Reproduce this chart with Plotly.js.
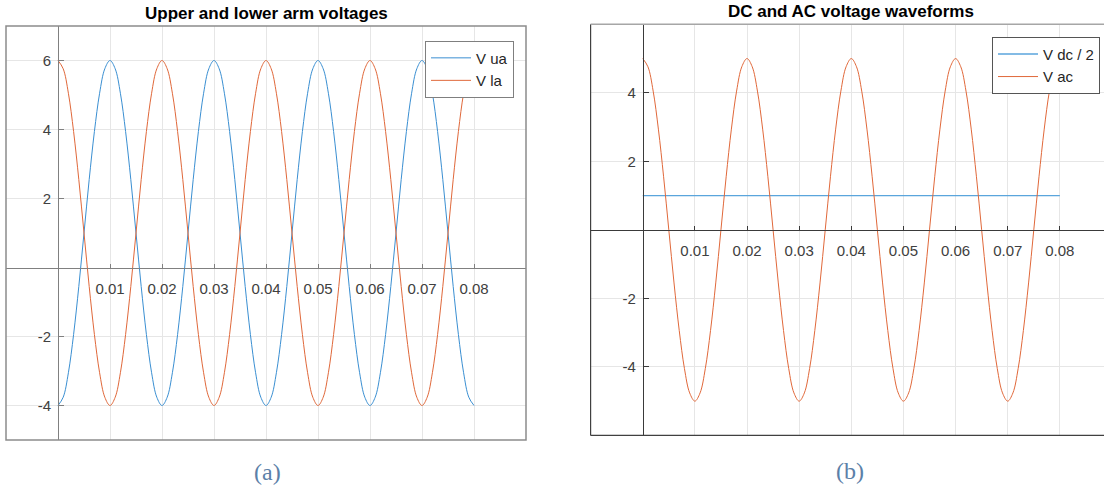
<!DOCTYPE html>
<html>
<head>
<meta charset="utf-8">
<script src="https://cdn.plot.ly/plotly-3.0.1.min.js"></script>
<style>
html,body{margin:0;padding:0;overflow:hidden;background:#fff;}
#chart{width:1120px;height:488px;}
</style>
</head>
<body>
<div id="chart"></div>
<script>
// ---- data ----
const time = [0,0.001,0.002,0.003,0.004,0.005,0.006,0.007,0.008,0.009,
0.010,0.011,0.012,0.013,0.014,0.015,0.016,0.017,0.018,0.019,
0.020,0.021,0.022,0.023,0.024,0.025,0.026,0.027,0.028,0.029,
0.030,0.031,0.032,0.033,0.034,0.035,0.036,0.037,0.038,0.039,
0.040,0.041,0.042,0.043,0.044,0.045,0.046,0.047,0.048,0.049,
0.050,0.051,0.052,0.053,0.054,0.055,0.056,0.057,0.058,0.059,
0.060,0.061,0.062,0.063,0.064,0.065,0.066,0.067,0.068,0.069,
0.070,0.071,0.072,0.073,0.074,0.075,0.076,0.077,0.078,0.079,0.080];

const vUa = [-4,-3.76,-3.05,-1.94,-0.55,1,2.55,3.94,5.05,5.76,6,5.76,5.05,3.94,2.55,1,-0.55,-1.94,-3.05,-3.76,
-4,-3.76,-3.05,-1.94,-0.55,1,2.55,3.94,5.05,5.76,6,5.76,5.05,3.94,2.55,1,-0.55,-1.94,-3.05,-3.76,
-4,-3.76,-3.05,-1.94,-0.55,1,2.55,3.94,5.05,5.76,6,5.76,5.05,3.94,2.55,1,-0.55,-1.94,-3.05,-3.76,
-4,-3.76,-3.05,-1.94,-0.55,1,2.55,3.94,5.05,5.76,6,5.76,5.05,3.94,2.55,1,-0.55,-1.94,-3.05,-3.76,-4];

const vLa = [6,5.76,5.05,3.94,2.55,1,-0.55,-1.94,-3.05,-3.76,-4,-3.76,-3.05,-1.94,-0.55,1,2.55,3.94,5.05,5.76,
6,5.76,5.05,3.94,2.55,1,-0.55,-1.94,-3.05,-3.76,-4,-3.76,-3.05,-1.94,-0.55,1,2.55,3.94,5.05,5.76,
6,5.76,5.05,3.94,2.55,1,-0.55,-1.94,-3.05,-3.76,-4,-3.76,-3.05,-1.94,-0.55,1,2.55,3.94,5.05,5.76,
6,5.76,5.05,3.94,2.55,1,-0.55,-1.94,-3.05,-3.76,-4,-3.76,-3.05,-1.94,-0.55,1,2.55,3.94,5.05,5.76,6];

const vDcHalf = [1,1,1,1,1,1,1,1,1,1,1,1,1,1,1,1,1,1,1,1,
1,1,1,1,1,1,1,1,1,1,1,1,1,1,1,1,1,1,1,1,
1,1,1,1,1,1,1,1,1,1,1,1,1,1,1,1,1,1,1,1,
1,1,1,1,1,1,1,1,1,1,1,1,1,1,1,1,1,1,1,1,1];

const vAc = [5,4.76,4.05,2.94,1.55,0,-1.55,-2.94,-4.05,-4.76,-5,-4.76,-4.05,-2.94,-1.55,0,1.55,2.94,4.05,4.76,
5,4.76,4.05,2.94,1.55,0,-1.55,-2.94,-4.05,-4.76,-5,-4.76,-4.05,-2.94,-1.55,0,1.55,2.94,4.05,4.76,
5,4.76,4.05,2.94,1.55,0,-1.55,-2.94,-4.05,-4.76,-5,-4.76,-4.05,-2.94,-1.55,0,1.55,2.94,4.05,4.76,
5,4.76,4.05,2.94,1.55,0,-1.55,-2.94,-4.05,-4.76,-5,-4.76,-4.05,-2.94,-1.55,0,1.55,2.94,4.05,4.76,5];

const xTickVals = [0.01,0.02,0.03,0.04,0.05,0.06,0.07,0.08];
const xTickText = ["0.01","0.02","0.03","0.04","0.05","0.06","0.07","0.08"];
const yTickValsA = [-4,-2,2,4,6];
const yTickTextA = ["-4","-2","2","4","6"];
const yTickValsB = [-4,-2,2,4];
const yTickTextB = ["-4","-2","2","4"];
const titleA = "Upper and lower arm voltages";
const titleB = "DC and AC voltage waveforms";

// ---- layout geometry ----
const W = 1120, H = 488;
const blue = "#3a8fd2", orange = "#e0683a";
const dxA = [6/W, 526/W], dyA = [(H-440)/H, (H-26)/H];
const dxB = [590.6/W, 1112/W], dyB = [(H-435.4)/H, (H-24.3)/H];
const rxA = [-0.01, 0.09], ryA = [-5, 7];
const rxB = [-0.01, 0.09], ryB = [-6, 6];
function posOf(dom, rng){ return dom[0] + (0 - rng[0])/(rng[1]-rng[0])*(dom[1]-dom[0]); }

const font = "'Liberation Sans', Arial, sans-serif";
const serif = "'Liberation Serif', 'DejaVu Serif', serif";
const tickFont = {family: font, size: 15, color: "#404040"};

const lineA = {shape: "spline", smoothing: 1, width: 1};
const traces = [
  {x: time, y: vUa, name: "V ua", type: "scatter", mode: "lines", line: Object.assign({color: blue}, lineA), xaxis: "x", yaxis: "y", legend: "legend"},
  {x: time, y: vLa, name: "V la", type: "scatter", mode: "lines", line: Object.assign({color: orange}, lineA), xaxis: "x", yaxis: "y", legend: "legend"},
  {x: time, y: vDcHalf, name: "V dc / 2", type: "scatter", mode: "lines", line: {color: "#5aa5dc", width: 1.4}, xaxis: "x2", yaxis: "y2", legend: "legend2"},
  {x: time, y: vAc, name: "V ac", type: "scatter", mode: "lines", line: Object.assign({color: orange}, lineA), xaxis: "x2", yaxis: "y2", legend: "legend2"}
];

function xAx(dom, rng, pos, col){
  return {domain: dom, range: rng, anchor: "free", position: pos,
    tickmode: "array", tickvals: xTickVals, ticktext: xTickText,
    ticks: "inside", ticklen: 4, tickcolor: col, tickwidth: 1,
    showline: true, linecolor: col, linewidth: 1,
    showgrid: true, gridcolor: "#e6e6e6", gridwidth: 1, zeroline: false,
    tickfont: tickFont, ticklabelstandoff: 7, fixedrange: true};
}
function yAx(dom, rng, pos, col, tv, tt){
  return {domain: dom, range: rng, anchor: "free", position: pos,
    tickmode: "array", tickvals: tv, ticktext: tt,
    ticks: "inside", ticklen: 5, tickcolor: col, tickwidth: 1,
    showline: true, linecolor: col, linewidth: 1,
    showgrid: true, gridcolor: "#e6e6e6", gridwidth: 1, zeroline: false,
    tickfont: tickFont, ticklabelstandoff: 4, fixedrange: true};
}

const layout = {
  width: W, height: H,
  margin: {l: 0, r: 0, t: 0, b: 0, pad: 0},
  paper_bgcolor: "#fff", plot_bgcolor: "#fff",
  showlegend: true,
  xaxis: xAx(dxA, rxA, posOf(dyA, ryA), "#808080"),
  yaxis: yAx(dyA, ryA, posOf(dxA, rxA), "#808080", yTickValsA, yTickTextA),
  xaxis2: xAx(dxB, rxB, posOf(dyB, ryB), "#3a3a3a"),
  yaxis2: yAx(dyB, ryB, posOf(dxB, rxB), "#3a3a3a", yTickValsB, yTickTextB),
  legend: {x: 514/W, xanchor: "right", y: (H-40.6)/H, yanchor: "top",
    bgcolor: "#fff", bordercolor: "#7f7f7f", borderwidth: 1,
    font: {family: font, size: 15, color: "#262626"}, tracegroupgap: 0, itemwidth: 40},
  legend2: {x: 1100/W, xanchor: "right", y: (H-36.8)/H, yanchor: "top",
    bgcolor: "#fff", bordercolor: "#555", borderwidth: 1,
    font: {family: font, size: 15, color: "#262626"}, tracegroupgap: 0, itemwidth: 40},
  shapes: [
    {type: "rect", xref: "paper", yref: "paper", x0: dxA[0], x1: dxA[1], y0: dyA[0], y1: dyA[1], line: {color: "#8c8c8c", width: 1.5}, layer: "above"},
    {type: "line", xref: "paper", yref: "paper", x0: dxB[0], x1: dxB[0], y0: dyB[0], y1: dyB[1], line: {color: "#404040", width: 1.2}, layer: "above"},
    {type: "line", xref: "paper", yref: "paper", x0: dxB[0], x1: dxB[1], y0: dyB[0], y1: dyB[0], line: {color: "#404040", width: 1.2}, layer: "above"},
    {type: "line", xref: "paper", yref: "paper", x0: dxB[0], x1: dxB[1], y0: dyB[1], y1: dyB[1], line: {color: "#a6a6a6", width: 1.5}, layer: "above"},
    {type: "line", xref: "paper", yref: "paper", x0: dxB[1], x1: dxB[1], y0: dyB[0], y1: dyB[1], line: {color: "#404040", width: 1.2}, layer: "above"}
  ],
  annotations: [
    {text: "<b>" + titleA + "</b>", xref: "paper", yref: "paper", x: (dxA[0]+dxA[1])/2, y: (H-13.5)/H, xanchor: "center", yanchor: "middle", showarrow: false, font: {family: font, size: 17, color: "#000"}},
    {text: "<b>" + titleB + "</b>", xref: "paper", yref: "paper", x: (dxB[0]+dxB[1])/2, y: (H-11.5)/H, xanchor: "center", yanchor: "middle", showarrow: false, font: {family: font, size: 17, color: "#000"}},
    {text: "(a)", xref: "paper", yref: "paper", x: 267.5/W, y: (H-472)/H, xanchor: "center", yanchor: "middle", showarrow: false, font: {family: serif, size: 24, color: "#5b80a8"}},
    {text: "(b)", xref: "paper", yref: "paper", x: 850/W, y: (H-471)/H, xanchor: "center", yanchor: "middle", showarrow: false, font: {family: serif, size: 24, color: "#5b80a8"}}
  ]
};

Plotly.newPlot("chart", traces, layout, {staticPlot: true, displayModeBar: false});
</script>
</body>
</html>
